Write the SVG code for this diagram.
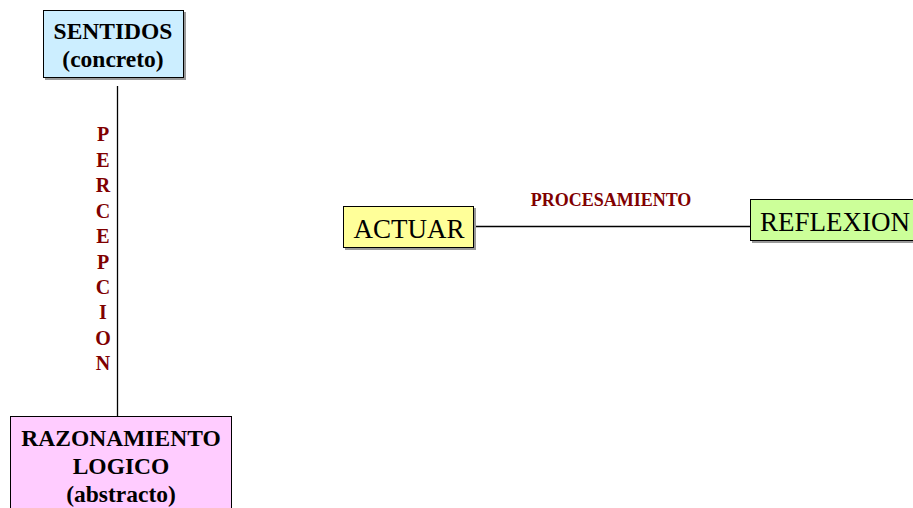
<svg xmlns="http://www.w3.org/2000/svg" width="913" height="508" viewBox="0 0 913 508">
<style>
.box{stroke:#000;stroke-width:1}
.sh{fill:#999}
.b{font-family:"Liberation Serif",serif;font-weight:bold;font-size:23.5px;fill:#000;text-anchor:middle}
.n{font-family:"Liberation Serif",serif;font-size:27px;fill:#000;text-anchor:middle}
.lbl{font-family:"Liberation Serif",serif;font-weight:bold;fill:#800000;text-anchor:middle}
.con{stroke:#000;stroke-width:1.3;fill:none}
</style>
<rect width="913" height="508" fill="#fff"/>
<g id="connectors">
<line class="con" x1="117.5" y1="86" x2="117.5" y2="416"/>
<line class="con" x1="474" y1="226.5" x2="750" y2="226.5"/>
<g id="label-percepcion" class="lbl" font-size="20">
<text x="103" y="141">P</text>
<text x="103" y="167">E</text>
<text x="103" y="192">R</text>
<text x="103" y="218">C</text>
<text x="103" y="243">E</text>
<text x="103" y="269">P</text>
<text x="103" y="294">C</text>
<text x="103" y="319">I</text>
<text x="103" y="345">O</text>
<text x="103" y="370">N</text>
</g>
<text id="label-procesamiento" class="lbl" font-size="18" x="611" y="206">PROCESAMIENTO</text>
</g>
<g id="sentidos">
<rect class="sh" x="45" y="12" width="141" height="68"/>
<rect class="box" x="43.5" y="10.5" width="140" height="67" fill="#CCEEFF"/>
<text class="b" x="113" y="39">SENTIDOS</text>
<text class="b" x="113" y="67">(concreto)</text>
</g>
<g id="razonamiento">
<rect class="box" x="10.5" y="416.5" width="221" height="100" fill="#FFCCFF"/>
<text class="b" x="121" y="446">RAZONAMIENTO</text>
<text class="b" x="121" y="474">LOGICO</text>
<text class="b" x="121" y="502">(abstracto)</text>
</g>
<g id="actuar">
<rect class="sh" x="345" y="208" width="131" height="42"/>
<rect class="box" x="343.5" y="206.5" width="130" height="41" fill="#FFFF99"/>
<text class="n" x="409" y="238">ACTUAR</text>
</g>
<g id="reflexion">
<rect class="sh" x="752" y="201" width="170" height="42"/>
<rect class="box" x="750.5" y="199.5" width="170" height="41" fill="#CCFF99"/>
<text class="n" x="835" y="231">REFLEXION</text>
</g>
</svg>
